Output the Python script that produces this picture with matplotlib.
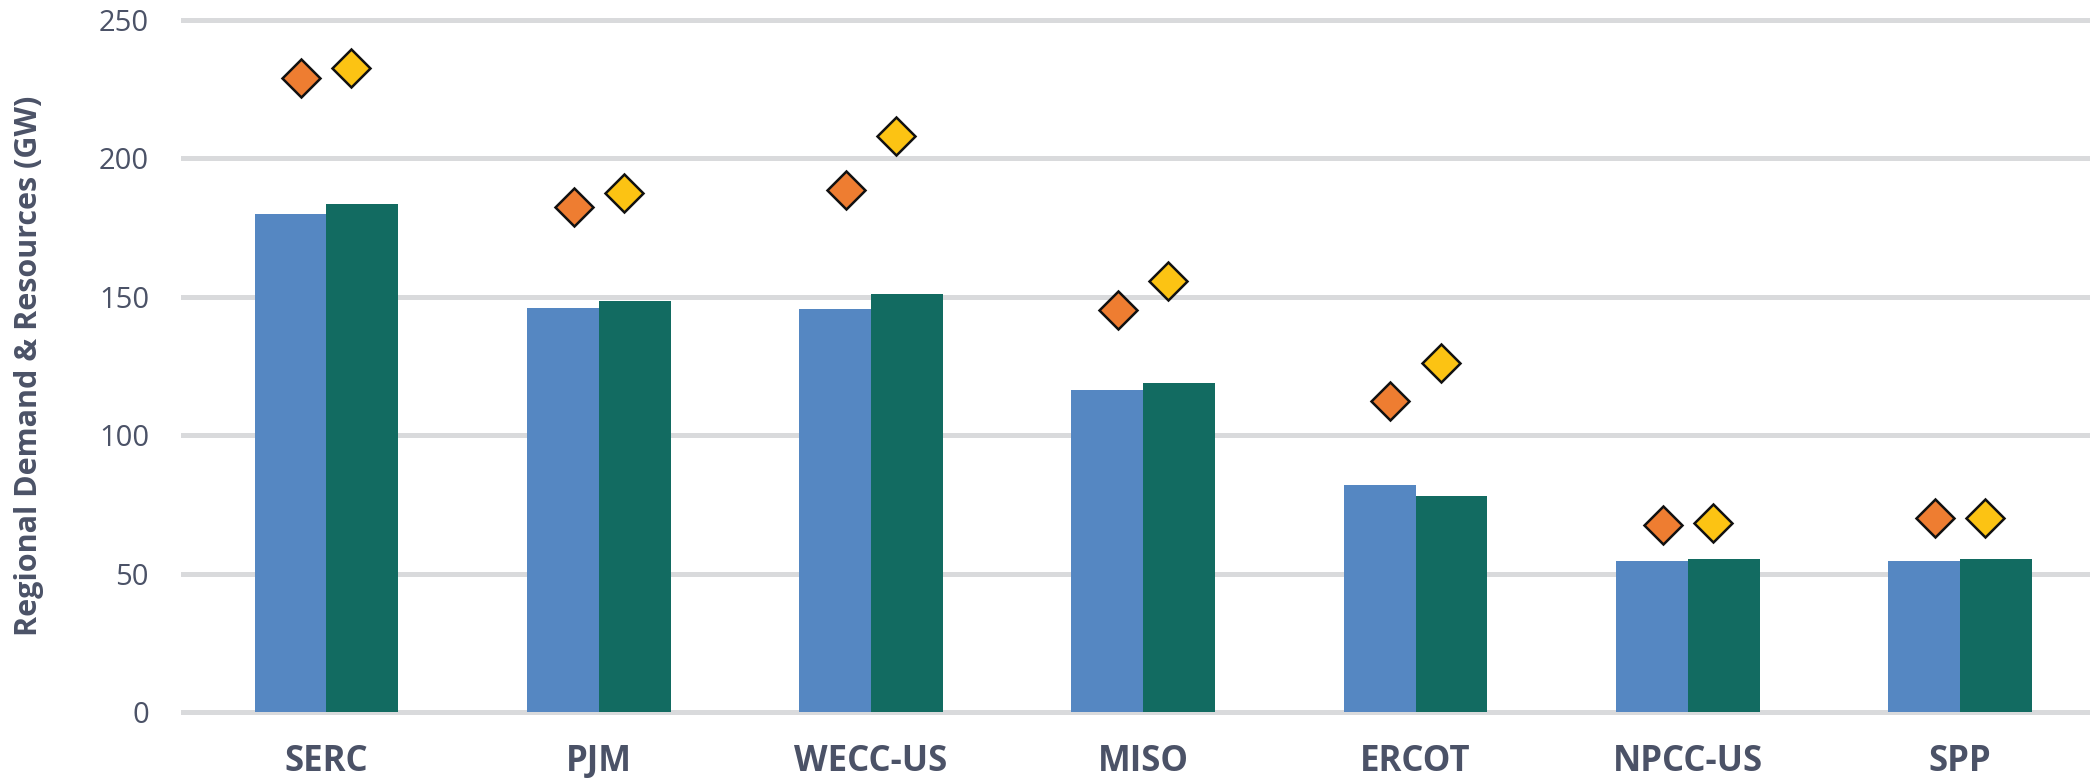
import numpy as np
import matplotlib
matplotlib.use("Agg")
import matplotlib.pyplot as plt

# values (GW)
regions = ["SERC", "PJM", "WECC-US", "MISO", "ERCOT", "NPCC-US", "SPP"]
demand_a = [180.1, 146.0, 145.7, 116.3, 81.9, 54.7, 54.7]
demand_b = [183.5, 148.6, 151.0, 118.8, 78.1, 55.2, 55.2]
resources_a = [228.9, 182.6, 188.5, 145.2, 112.4, 67.6, 70.2]
resources_b = [232.8, 187.4, 208.2, 155.8, 126.2, 68.4, 70.2]
yticks = [0, 50, 100, 150, 200, 250]

text_color = "#4b5267"
plt.rcParams["font.family"] = ["Open Sans", "DejaVu Sans"]

fig = plt.figure(figsize=(20.9, 7.78), dpi=100)
ax = fig.add_axes([181 / 2090, 0.0794, 1 - 181 / 2090, 0.9796 - 0.0794])

x = np.arange(len(regions))
bar_w = 0.264
ax.bar(x - bar_w / 2, demand_a, width=bar_w, color="#5587c2", zorder=2)
ax.bar(x + bar_w / 2, demand_b, width=bar_w, color="#126b61", zorder=2)

ax.plot(x - 0.092, resources_a, linestyle="none", marker="D", markersize=19.5,
        markerfacecolor="#ee7d31", markeredgecolor="#111111", markeredgewidth=1.8, zorder=3)
ax.plot(x + 0.092, resources_b, linestyle="none", marker="D", markersize=19.5,
        markerfacecolor="#fcc313", markeredgecolor="#111111", markeredgewidth=1.8, zorder=3)

ax.set_xlim(-0.534, 6.477)
ax.set_ylim(-1.5, 251.5)
ax.set_yticks(yticks)
ax.set_xticks(x)
ax.set_xticklabels(regions, fontsize=25, fontweight="bold", color=text_color)
ax.tick_params(axis="y", length=0, pad=23, labelsize=21, labelcolor=text_color)
ax.tick_params(axis="x", length=0, pad=20)

ax.grid(axis="y", color="#d9dadc", linewidth=3.6, zorder=0)
ax.set_axisbelow(True)
for s in ax.spines.values():
    s.set_visible(False)

ax.set_ylabel("Regional Demand & Resources (GW)", fontsize=22, fontweight="bold",
              color=text_color, va="center")
ax.yaxis.set_label_coords((29 - 181) / 1909, 0.5)

fig.savefig("out.png", dpi=100)
